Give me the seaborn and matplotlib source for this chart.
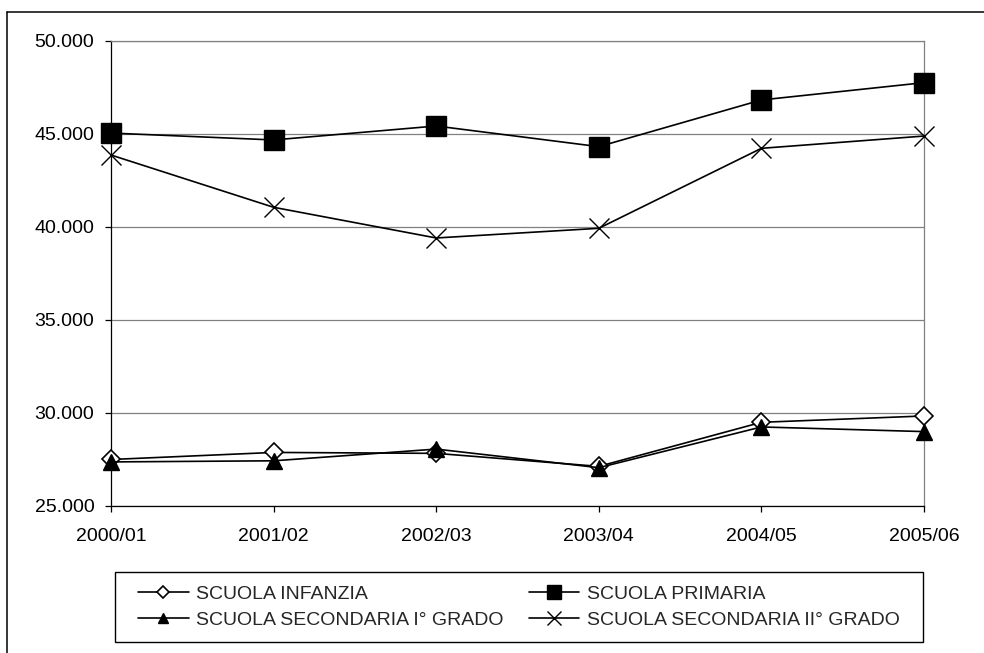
import matplotlib
matplotlib.use("Agg")
import matplotlib.pyplot as plt
from matplotlib.lines import Line2D
from matplotlib.patches import Rectangle
from matplotlib.ticker import FuncFormatter
import seaborn as sns
import pandas as pd

# Values
anni = ["2000/01", "2001/02", "2002/03", "2003/04", "2004/05", "2005/06"]
infanzia = [27500, 27880, 27830, 27130, 29500, 29840]
primaria = [45050, 44680, 45430, 44320, 46830, 47760]
secondaria_1 = [27370, 27430, 28060, 27060, 29250, 29000]
secondaria_2 = [43870, 41060, 39410, 39930, 44230, 44890]

nomi = ["SCUOLA INFANZIA", "SCUOLA PRIMARIA",
        "SCUOLA SECONDARIA I° GRADO", "SCUOLA SECONDARIA II° GRADO"]
valori = [infanzia, primaria, secondaria_1, secondaria_2]

sns.set_theme(style="white")
plt.rcParams["font.family"] = ["Liberation Sans", "DejaVu Sans"]
fs = 14

fig = plt.figure(figsize=(9.84, 6.53), dpi=100)
ax = fig.add_axes([111 / 984, 1 - 506 / 653, 813 / 984, 465 / 653])

# marker style for each series: (marker, size, facecolor, edge width)
stili = {
    "SCUOLA INFANZIA": ("D", 9.0, "white", 1.2),
    "SCUOLA PRIMARIA": ("s", 14.0, "black", 1.0),
    "SCUOLA SECONDARIA I° GRADO": ("^", 11.0, "black", 1.0),
    "SCUOLA SECONDARIA II° GRADO": ("x", 14.0, "black", 1.0),
}

for nome, vals in zip(nomi, valori):
    df = pd.DataFrame({"anno": anni, "iscritti": vals})
    m, ms, fc, mew = stili[nome]
    sns.lineplot(data=df, x="anno", y="iscritti", ax=ax, color="black",
                 linewidth=1.2, marker=m, markersize=ms, markerfacecolor=fc,
                 markeredgecolor="black", markeredgewidth=mew, clip_on=False,
                 zorder=3, sort=False)

ax.set_xlim(0, 5)
ax.set_ylim(25000, 50000)
ax.set_yticks([25000, 30000, 35000, 40000, 45000, 50000])
ax.yaxis.set_major_formatter(FuncFormatter(lambda v, p: f"{v:,.0f}".replace(",", ".")))
ax.set_xlabel("")
ax.set_ylabel("")

ax.grid(axis="y", color="#808080", linewidth=0.9)
ax.grid(axis="x", visible=False)
for lato in ["top", "right"]:
    ax.spines[lato].set_color("#808080")
    ax.spines[lato].set_linewidth(0.9)
for lato in ["left", "bottom"]:
    ax.spines[lato].set_color("black")
    ax.spines[lato].set_linewidth(0.9)

ax.tick_params(axis="both", which="major", direction="out", length=4,
               width=0.9, color="black", labelsize=fs, labelcolor="black")
ax.tick_params(axis="y", pad=8)
ax.tick_params(axis="x", pad=12)
ax.tick_params(left=True, bottom=True)

# legend, filled row by row like the reference
ordine = [0, 2, 1, 3]
maniglie = []
for i in ordine:
    m, ms, fc, mew = stili[nomi[i]]
    maniglie.append(Line2D([], [], color="black", linewidth=1.2, marker=m,
                           markersize=ms * 0.7, markerfacecolor=fc,
                           markeredgecolor="black", markeredgewidth=mew,
                           label=nomi[i]))
fig.legend(handles=maniglie, ncol=2, mode="expand",
           bbox_to_anchor=(138 / 984, 1 - 638 / 653, 762 / 984, 62 / 653),
           loc="center", fontsize=fs, frameon=False,
           handlelength=2.6, handletextpad=0.4, borderaxespad=0,
           columnspacing=1.0, labelspacing=0.45, borderpad=0)
fig.add_artist(Rectangle((115 / 984, 1 - 642 / 653), 808 / 984, 70 / 653,
                         facecolor="none", edgecolor="black", linewidth=1.0,
                         transform=fig.transFigure))

# outer chart frame (left and top edges visible)
fig.add_artist(Line2D([7 / 984, 7 / 984], [0, 1 - 12 / 653], color="black",
                      linewidth=1.1, transform=fig.transFigure))
fig.add_artist(Line2D([7 / 984, 1], [1 - 12 / 653, 1 - 12 / 653], color="black",
                      linewidth=1.1, transform=fig.transFigure))

fig.savefig("out.png", dpi=100)
